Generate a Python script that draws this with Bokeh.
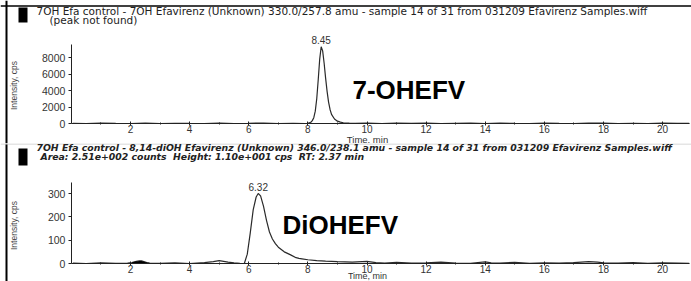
from bokeh.plotting import figure
from bokeh.layouts import column
from bokeh.models import (Label, BoxAnnotation, Span, FixedTicker, Range1d,
                          ColumnDataSource, LinearAxis)
from bokeh.embed import file_html
from bokeh.resources import INLINE

# ---------------- data ----------------
top_time = [0.05, 0.5, 1.0, 1.5, 2.0, 2.5, 3.0, 3.5, 4.0, 4.5, 5.0, 5.5, 6.0, 6.5, 7.0, 7.5,
            7.9, 8.0, 8.1, 8.15, 8.2, 8.25, 8.3, 8.35, 8.4, 8.45, 8.5, 8.55, 8.6, 8.65, 8.7,
            8.75, 8.8, 8.9, 9.0, 9.1, 9.2, 9.4, 9.6, 10.0, 10.5, 11.0, 11.5, 12.0, 12.5, 13.0,
            13.5, 14.0, 14.5, 15.0, 15.5, 16.0, 16.5, 17.0, 17.5, 18.0, 18.5, 19.0, 19.5, 20.0,
            20.5, 20.9]
top_intensity = [20, 0, 40, 10, 0, 50, 0, 30, 10, 0, 40, 0, 20, 60, 0, 30,
                 0, 20, 150, 350, 700, 1500, 3000, 5300, 7800, 9300, 8800, 7300, 5500, 3900, 2600,
                 1700, 1100, 550, 280, 160, 90, 40, 20, 60, 0, 40, 10, 50, 0, 30,
                 60, 0, 40, 10, 0, 50, 20, 0, 40, 60, 0, 30, 0, 40,
                 10, 20]

bot_time = [0.05, 0.5, 1.0, 1.5, 1.9, 2.05, 2.1, 2.2, 2.3, 2.37, 2.45, 2.55, 2.65, 3.0, 3.5,
            4.0, 4.5, 4.8, 5.0, 5.1, 5.3, 5.5, 5.7, 5.85, 5.95, 6.05, 6.15, 6.25, 6.32, 6.4,
            6.5, 6.6, 6.7, 6.8, 6.9, 7.0, 7.2, 7.4, 7.6, 7.7, 7.8, 8.0, 8.3, 8.6, 9.0, 9.5,
            10.0, 10.3, 10.6, 11.0, 11.5, 12.0, 12.5, 13.0, 13.5, 14.0, 14.2, 14.5, 15.0,
            15.5, 16.0, 16.5, 17.0, 17.5, 17.8, 18.0, 18.5, 19.0, 19.5, 20.0, 20.5, 20.9]
bot_intensity = [2, 0, 3, 1, 2, 4, 6, 9, 11, 11, 8, 4, 2, 1, 3,
                 0, 4, 8, 12, 10, 6, 3, 1, 0, 40, 130, 230, 285, 300, 290,
                 245, 185, 135, 105, 85, 70, 50, 38, 25, 22, 20, 16, 12, 10, 8, 6,
                 9, 4, 2, 5, 2, 3, 6, 2, 1, 7, 3, 2, 5,
                 1, 3, 2, 4, 8, 6, 3, 2, 4, 1, 3, 2, 1]
# integrated peak (RT 2.37 min) shaded under the trace
bot_fill_time = [2.05, 2.1, 2.2, 2.3, 2.37, 2.45, 2.55, 2.65]
bot_fill_intensity = [4, 6, 9, 11, 11, 8, 4, 2]

x_major_ticks = [2, 4, 6, 8, 10, 12, 14, 16, 18, 20]
x_minor_ticks = [1, 3, 5, 7, 9, 11, 13, 15, 17, 19]
top_y_ticks = [0, 2000, 4000, 6000, 8000]
bot_y_ticks = [0, 100, 200, 300]
x_max = 20.9
top_y_max = 9550
bot_y_max = 347
top_peak_rt = 8.45
top_peak_height = 9300
bot_peak_rt = 6.32
bot_peak_height = 300

top_title = "7OH Efa control - 7OH Efavirenz (Unknown) 330.0/257.8 amu - sample 14 of 31 from 031209 Efavirenz Samples.wiff"
top_subtitle = "(peak not found)"
bot_title = "7OH Efa control - 8,14-diOH Efavirenz (Unknown) 346.0/238.1 amu - sample 14 of 31 from 031209 Efavirenz Samples.wiff"
bot_subtitle = "Area: 2.51e+002 counts\u00a0 Height: 1.10e+001 cps\u00a0 RT: 2.37 min"
top_big = "7-OHEFV"
bot_big = "DiOHEFV"
x_label = "Time, min"
y_label = "Intensity, cps"

# ---------------- layout (pixels) ----------------
W = 691
FONT = "Liberation Sans"
TFONT = "DejaVu Sans"
TRACE = "#2a2a2a"
X0_PX = 70.9        # pixel of t = 0
PX_PER_MIN = 29.56
BASE_FIX = 0.42     # em shift so that the alphabetic baseline lands where wanted


def make_panel(h, zero_py, px_per_unit, ymax, yticks, t, v):
    x_range = Range1d(-X0_PX / PX_PER_MIN, (W - X0_PX) / PX_PER_MIN)
    y_range = Range1d(-(h - zero_py) / px_per_unit, zero_py / px_per_unit)
    p = figure(width=W, height=h, output_backend="svg", toolbar_location=None,
               x_range=x_range, y_range=y_range,
               x_axis_location=None, y_axis_location=None,
               min_border=0, min_border_left=0, min_border_right=0,
               min_border_top=0, min_border_bottom=0)
    p.xgrid.visible = False
    p.ygrid.visible = False
    p.outline_line_color = None
    p.background_fill_color = "white"
    p.border_fill_color = "white"
    src = ColumnDataSource(dict(t=t, v=v))
    p.line("t", "v", source=src, line_color=TRACE, line_width=1.2)

    xa = LinearAxis(fixed_location=0, bounds=(0, x_max),
                    ticker=FixedTicker(ticks=x_major_ticks, minor_ticks=x_minor_ticks))
    ya = LinearAxis(fixed_location=0, bounds=(0, ymax),
                    ticker=FixedTicker(ticks=yticks, minor_ticks=[]))
    for ax in (xa, ya):
        ax.axis_line_color = "#222222"
        ax.major_tick_line_color = "#222222"
        ax.minor_tick_line_color = "#222222"
        ax.major_label_text_font = FONT
        ax.major_label_text_color = "#333333"
    xa.major_label_text_font_size = "10px"
    ya.major_label_text_font_size = "10.5px"
    xa.major_tick_in = 2
    xa.major_tick_out = 2
    xa.minor_tick_in = 1
    xa.minor_tick_out = 1
    xa.major_label_standoff = -1
    ya.major_tick_in = 0
    ya.major_tick_out = 3
    ya.major_label_standoff = 3
    p.add_layout(xa, "below")
    p.add_layout(ya, "left")
    return p


def label(p, h, x, py, text, size_px, style="normal", color="#222222", font=FONT, **kw):
    if kw.get("text_baseline") == "alphabetic":
        py = py - BASE_FIX * size_px
    p.add_layout(Label(x=x, y=h - py, x_units="screen", y_units="screen", text=text,
                       text_font=font, text_font_size=f"{size_px}px",
                       text_font_style=style, text_color=color, **kw))


def decorate(p, h, top_line_py, top_line_color, top_line_w, square, title, title_py,
             sub, sub_x, sub_py, style, tsize, axis_mid_py, time_py, time_size,
             big, big_x, big_py):
    p.add_layout(Span(location=6, location_units="screen", dimension="height",
                      line_color="black", line_width=2))
    p.add_layout(Span(location=h - top_line_py, location_units="screen", dimension="width",
                      line_color=top_line_color, line_width=top_line_w))
    p.add_layout(BoxAnnotation(left=square[0], right=square[1],
                               top=h - square[2], bottom=h - square[3],
                               left_units="screen", right_units="screen",
                               top_units="screen", bottom_units="screen",
                               fill_color="black", fill_alpha=1, line_color=None))
    label(p, h, 36, title_py, title, tsize, style, font=TFONT, text_baseline="alphabetic")
    label(p, h, sub_x, sub_py, sub, tsize, style, font=TFONT, text_baseline="alphabetic")
    label(p, h, 13, axis_mid_py, y_label, 8.5, color="#444444",
          angle=90, angle_units="deg", text_align="center", text_baseline="middle")
    label(p, h, 367, time_py, x_label, time_size, color="#333333",
          text_align="center", text_baseline="middle")
    label(p, h, big_x, big_py, big, 26, "bold", color="black",
          text_baseline="alphabetic")


# ---- top panel (page rows 0..143) ----
H1 = 143
p1 = make_panel(H1, 123, 66.0 / 8000, top_y_max, top_y_ticks, top_time, top_intensity)
decorate(p1, H1, 5.5, "black", 1.6, (18, 27, 7, 22), top_title, 14.5, top_subtitle, 49, 23.5,
         "normal", 10.5, 85, 138.5, 9.5, top_big, 352, 100)
p1.add_layout(Label(x=top_peak_rt, y=top_peak_height, y_offset=3, text=f"{top_peak_rt:.2f}",
                    text_font=FONT, text_font_size="10px", text_color="#333333",
                    text_align="center", text_baseline="bottom"))

# ---- bottom panel (page rows 143..281) ----
H2 = 138
p2 = make_panel(H2, 263 - 143, 70.0 / 300, bot_y_max, bot_y_ticks, bot_time, bot_intensity)
p2.varea(x=bot_fill_time, y1=[0] * len(bot_fill_time), y2=bot_fill_intensity,
         fill_color="black")
decorate(p2, H2, 0.5, "#cccccc", 1, (18, 27, 148 - 143, 165 - 143), bot_title, 151 - 143,
         bot_subtitle, 40, 160 - 143, "bold italic", 9.3, 225 - 143, 275 - 143, 9,
         bot_big, 282, 235 - 143)
p2.add_layout(Label(x=bot_peak_rt, y=bot_peak_height, y_offset=3, text=f"{bot_peak_rt:.2f}",
                    text_font=FONT, text_font_size="10px", text_color="#333333",
                    text_align="center", text_baseline="bottom"))

layout = column(p1, p2, spacing=0)
open("out.html", "w").write(file_html(layout, INLINE))
